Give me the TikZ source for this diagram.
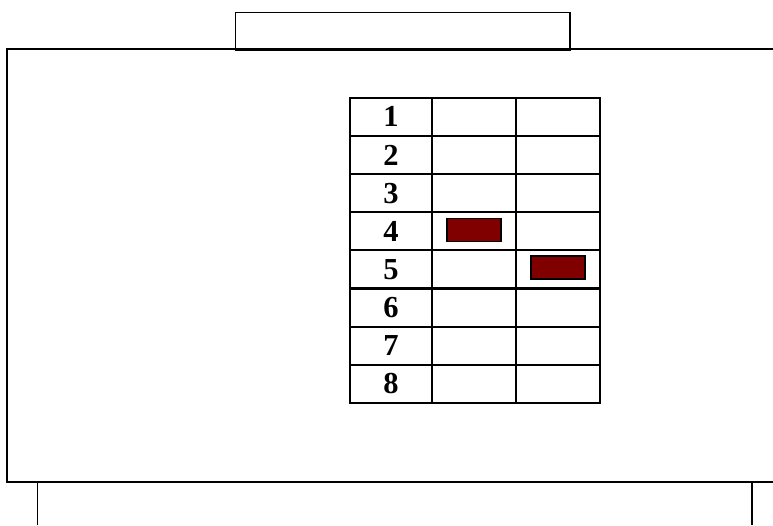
\documentclass[tikz,border=0pt]{standalone}
\usepackage{fontspec}
\setmainfont{Liberation Serif}
\usetikzlibrary{positioning}
\definecolor{darkred}{HTML}{800000}

\begin{document}
\begin{tikzpicture}[x=1pt,y=-1pt]
\tikzset{frame/.style={line width=1.4pt},
 cell/.style={draw, line width=2.2pt, outer sep=0pt, inner sep=0pt, minimum width=84pt, minimum height=38.16pt},
 numcell/.style={cell, minimum width=82pt, font=\fontsize{30.5}{30.5}\selectfont\bfseries},
 block/.style={draw, fill=darkred, line width=1.3pt, minimum width=54pt, minimum height=23pt, inner sep=0pt}}
\useasboundingbox (0,0) rectangle (773,525);
% outer housing
\draw[frame] (773,49) -- (7,49) -- (7,482) -- (773,482);
\node[frame, draw, outer sep=0pt, minimum width=334.5pt, minimum height=37.5pt, anchor=north west] (lid) at (235.5,12.5) {};
\coordinate (legL) at (37.5,482);
\coordinate (legR) at (752,482);
\draw[frame] (legL) -- +(0,43);
\draw[frame] (legR) -- +(0,43);
% table
\node[numcell, anchor=north west] (n1) at (350,97.7) {1};
\foreach \r [count=\p] in {2,...,8}
  \node[numcell, below=0pt of n\p] (n\r) {\r};
\foreach \r in {1,...,8} {
  \node[cell, right=0pt of n\r] (a\r) {};
  \node[cell, right=0pt of a\r] (b\r) {};
}
% markers
\node[block, yshift=1pt] (m4) at (a4) {};
\node[block, yshift=2pt] (m5) at (b5) {};
\end{tikzpicture}
\end{document}
